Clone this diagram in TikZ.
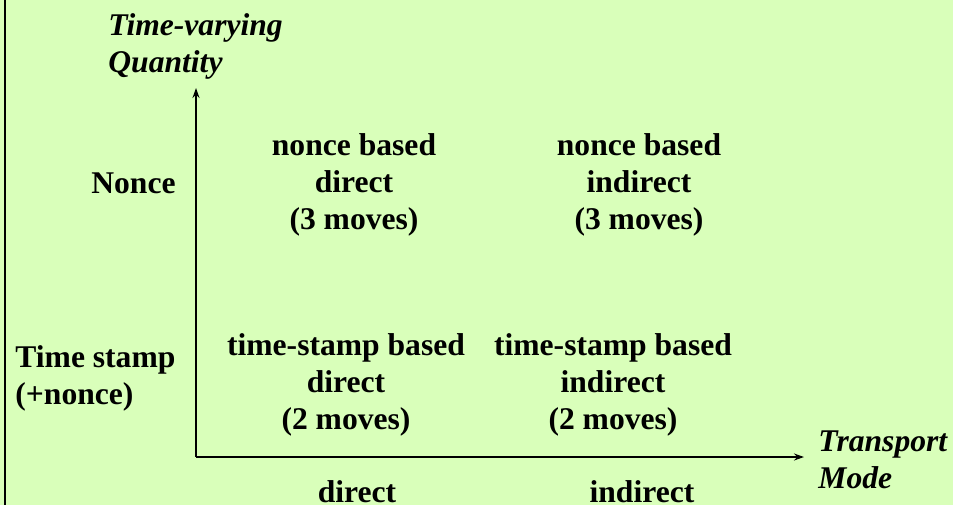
\documentclass[tikz,border=0pt]{standalone}
\usepackage{fontspec}
\setmainfont{Liberation Serif}
\usetikzlibrary{arrows.meta}

\definecolor{slidebg}{RGB}{217,255,186}

\tikzset{
  lbl/.style={font=\fontsize{15.8}{18.5}\selectfont\bfseries, inner sep=0pt, align=center, anchor=base},
  axislbl/.style={lbl, font=\fontsize{15.8}{18.5}\selectfont\bfseries\itshape, align=left, anchor=base west},
  axis/.style={line width=1pt, -{Stealth[length=5pt, width=3.5pt]}}
}

\begin{document}
\begin{tikzpicture}[x=0.5pt, y=-0.5pt]

  \fill[slidebg] (0,0) rectangle (953,505);
  \useasboundingbox (0,0) rectangle (953,505);
  \draw[line width=1pt] (5,0) -- (5,505);

  % axes
  \coordinate (o)    at (196,457);
  \coordinate (ytip) at (196,88);
  \coordinate (xtip) at (804,457);
  \draw[axis] (o) -- (ytip);
  \draw[axis] (o) -- (xtip);

  % base anchor sits on the last line of a node
  \node[axislbl] (qty)  at (108,72)  {Time-varying\\Quantity};
  \node[axislbl] (mode) at (818,488) {Transport\\Mode};

  % row and column headings
  \begin{scope}[every node/.style={lbl}]
    \node[anchor=base east] (nonce) at (176,193) {Nonce};
    \node[anchor=base west, align=left] (tstamp) at (15,404) {Time stamp\\(+nonce)};
    \node (dir)   at (357,502) {direct};
    \node (indir) at (642,502) {indirect};
  \end{scope}

  % the four cells
  \begin{scope}[every node/.style={lbl}]
    \node (nd) at (354,229) {nonce based\\direct\\(3 moves)};
    \node (ni) at (639,229) {nonce based\\indirect\\(3 moves)};
    \node (td) at (346,429) {time-stamp based\\direct\\(2 moves)};
    \node (ti) at (613,429) {time-stamp based\\indirect\\(2 moves)};
  \end{scope}

\end{tikzpicture}
\end{document}
